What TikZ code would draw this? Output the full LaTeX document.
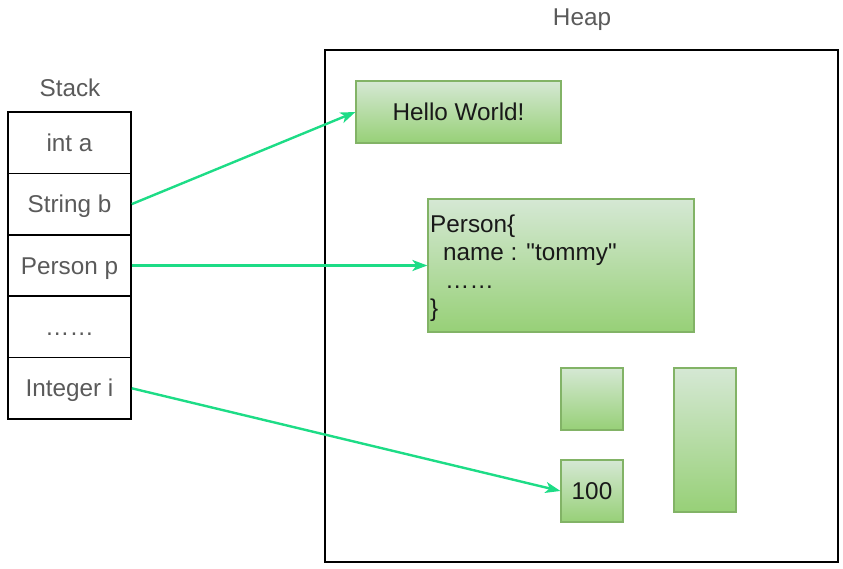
\documentclass[tikz,border=0pt]{standalone}
\usepackage{fontspec}
\setmainfont{Liberation Sans}[Ligatures=TeXOff]
\usetikzlibrary{arrows.meta}
\definecolor{txtgrey}{HTML}{5A5A5A}
\definecolor{gtop}{HTML}{D5E8D4}
\definecolor{gbot}{HTML}{97D077}
\definecolor{gborder}{HTML}{82B366}
\definecolor{arrowgreen}{HTML}{1DDC86}
\begin{document}
\begin{tikzpicture}[x=1pt,y=-1pt,
  every node/.style={font=\fontsize{24.3}{28}\selectfont},
  txt/.style={text height=20pt,text depth=2.8pt},
  cell/.style={txt,draw=black,line width=1.6pt,minimum width=123pt,minimum height=61.4pt,inner sep=0pt,text=txtgrey},
  label/.style={txt,text=txtgrey,inner sep=0pt},
  gbox/.style={draw=gborder,line width=1.2pt,top color=gtop,bottom color=gbot,inner sep=0pt,text=black!90},
  ptr/.style={draw=arrowgreen,line width=2.4pt,-{Stealth[length=15pt,width=11pt,inset=4pt]}}
]
\useasboundingbox (0,0) rectangle (843,569);
% labels
\node[label] (stacklbl) at (70,88) {Stack};
\node[label] (heaplbl) at (582,17) {Heap};
% stack cells
\node[cell] (a) at (69.5,142.7) {int a};
\node[cell] (b) at (69.5,204.1) {String b};
\node[cell] (p) at (69.5,265.5) {Person p};
\node[cell] (d) at (69.5,326.9) {……};
\node[cell] (i) at (69.5,388.3) {Integer i};
% heap frame
\node[draw=black,line width=1.8pt,minimum width=513pt,minimum height=512pt,inner sep=0pt] (heap) at (581.5,306) {};
% heap objects
\node[gbox,txt,minimum width=205pt,minimum height=62pt] (hello) at (458.5,112) {Hello World!};
\node[gbox,minimum width=266pt,minimum height=133pt] (person) at (561,265.5) {};
\node[anchor=west,align=left,inner sep=0pt,text=black!90] (persontxt) at (430,268.5)
  {Person\{\\\hspace*{13pt}name : "tommy"\\\hspace*{15pt}……\\\}};
\node[gbox,minimum width=62pt,minimum height=62pt] (small) at (592,399) {};
\node[gbox,txt,minimum width=62pt,minimum height=62pt] (hundred) at (592,491) {100};
\node[gbox,minimum width=62pt,minimum height=144pt] (tall) at (705,440) {};
% pointers
\draw[ptr] (b.east) -- (hello.west);
\draw[ptr] (p.east) -- (p.east -| person.west);
\draw[ptr] (i.east) -- (hundred.west);
\end{tikzpicture}
\end{document}
